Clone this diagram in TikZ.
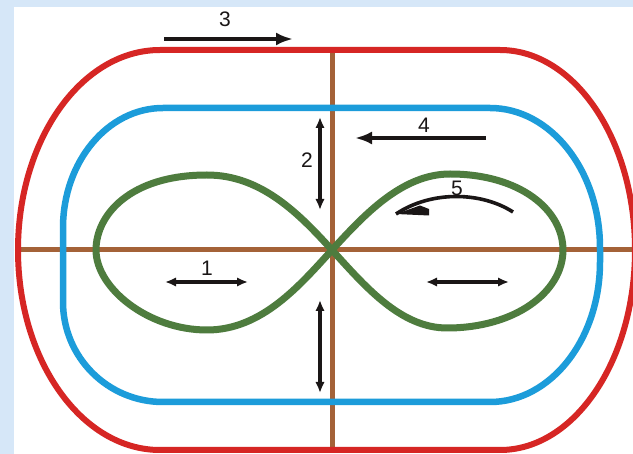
\documentclass[tikz,border=0pt]{standalone}
\usepackage{fontspec}
\setmainfont{Liberation Sans}
\usetikzlibrary{arrows.meta}
\definecolor{bgblue}{RGB}{214,231,248}
\definecolor{trackred}{RGB}{214,38,36}
\definecolor{trackblue}{RGB}{28,156,218}
\definecolor{trackgreen}{RGB}{78,124,62}
\definecolor{trackbrown}{RGB}{164,98,56}
\definecolor{ink}{RGB}{26,22,22}
\tikzset{
  redtrack/.style={draw=trackred,line width=6pt},
  bluetrack/.style={draw=trackblue,line width=6.5pt},
  greentrack/.style={draw=trackgreen,line width=7pt,line join=round},
  browntrack/.style={draw=trackbrown,line width=5pt},
  bigarrow/.style={draw=ink,line width=3.6pt,-{Latex[length=17pt,width=13pt]}},
  dblarrow/.style={draw=ink,line width=3.6pt,{Latex[length=11pt,width=9.5pt]}-{Latex[length=11pt,width=9.5pt]}},
  numlabel/.style={font=\fontsize{21}{21}\selectfont,text=ink,inner sep=0pt}
}
\begin{document}
\begin{tikzpicture}[x=1pt,y=-1pt]
\useasboundingbox (0,0) rectangle (633,454);
\clip (0,0) rectangle (633,454);
% background
\fill[bgblue] (0,0) rectangle (633,454);
\fill[white] (14,7) rectangle (633,454);
% axes
\coordinate (hl) at (18,250);
\coordinate (hr) at (640,250);
\coordinate (vt) at (332,50);
\coordinate (vb) at (332,450);
\draw[browntrack] (hl) -- (hr);
\draw[browntrack] (vt) -- (vb);
% red track
\draw[redtrack] (160,50) -- (500,50)
  arc[start angle=270,end angle=450,x radius=135,y radius=200]
  -- (160,450)
  arc[start angle=90,end angle=270,x radius=142,y radius=200] -- cycle;
% blue track
\draw[bluetrack] (163,108) -- (490,108)
  arc[start angle=270,end angle=360,x radius=110,y radius=140]
  -- (600,262)
  arc[start angle=0,end angle=90,x radius=110,y radius=140]
  -- (163,402)
  arc[start angle=90,end angle=180,radius=100]
  -- (63,228)
  arc[start angle=180,end angle=270,x radius=100,y radius=120] -- cycle;
% green figure eight
\coordinate (c) at (332,250);
\draw[greentrack] (c)
  .. controls (300,215) and (262,175) .. (207,175)
  .. controls (130,175) and (96,215) .. (96,250)
  .. controls (96,288) and (148,330) .. (207,330)
  .. controls (262,330) and (300,285) .. (c)
  .. controls (364,215) and (402,174) .. (450,174)
  .. controls (520,174) and (563,210) .. (563,250)
  .. controls (563,292) and (515,328) .. (447,328)
  .. controls (400,328) and (364,285) .. (c);
% arrow 3
\coordinate (a3s) at (164,39);
\coordinate (a3e) at (293,39);
\draw[bigarrow] (a3s) -- (a3e);
\node[numlabel] (n3) at (225,19) {3};
% arrow 4
\coordinate (a4s) at (486,138);
\coordinate (a4e) at (355,138);
\draw[bigarrow] (a4s) -- (a4e);
\node[numlabel] (n4) at (424,125) {4};
% arrow 2 and lower vertical
\coordinate (a2t) at (320,117);
\coordinate (a2b) at (320,210);
\draw[dblarrow] (a2t) -- (a2b);
\node[numlabel] (n2) at (307,160) {2};
\coordinate (avt) at (320,300);
\coordinate (avb) at (320,393);
\draw[dblarrow] (avt) -- (avb);
% arrow 1 and right horizontal
\coordinate (a1l) at (165,282);
\coordinate (a1r) at (248,282);
\draw[dblarrow] (a1l) -- (a1r);
\node[numlabel] (n1) at (207,268) {1};
\coordinate (arl) at (426,282);
\coordinate (arr) at (509,282);
\draw[dblarrow] (arl) -- (arr);
% arrow 5 (curved, half head)
\coordinate (a5s) at (513,212);
\coordinate (a5t) at (396,214);
\draw[ink,line width=3.6pt] (a5s) .. controls (482,192) and (432,190) .. (a5t);
\fill[ink] (a5t) -- (429,215.5) -- (429,209) -- (420,205.5) -- cycle;
\node[numlabel] (n5) at (457,188) {5};
\end{tikzpicture}
\end{document}
